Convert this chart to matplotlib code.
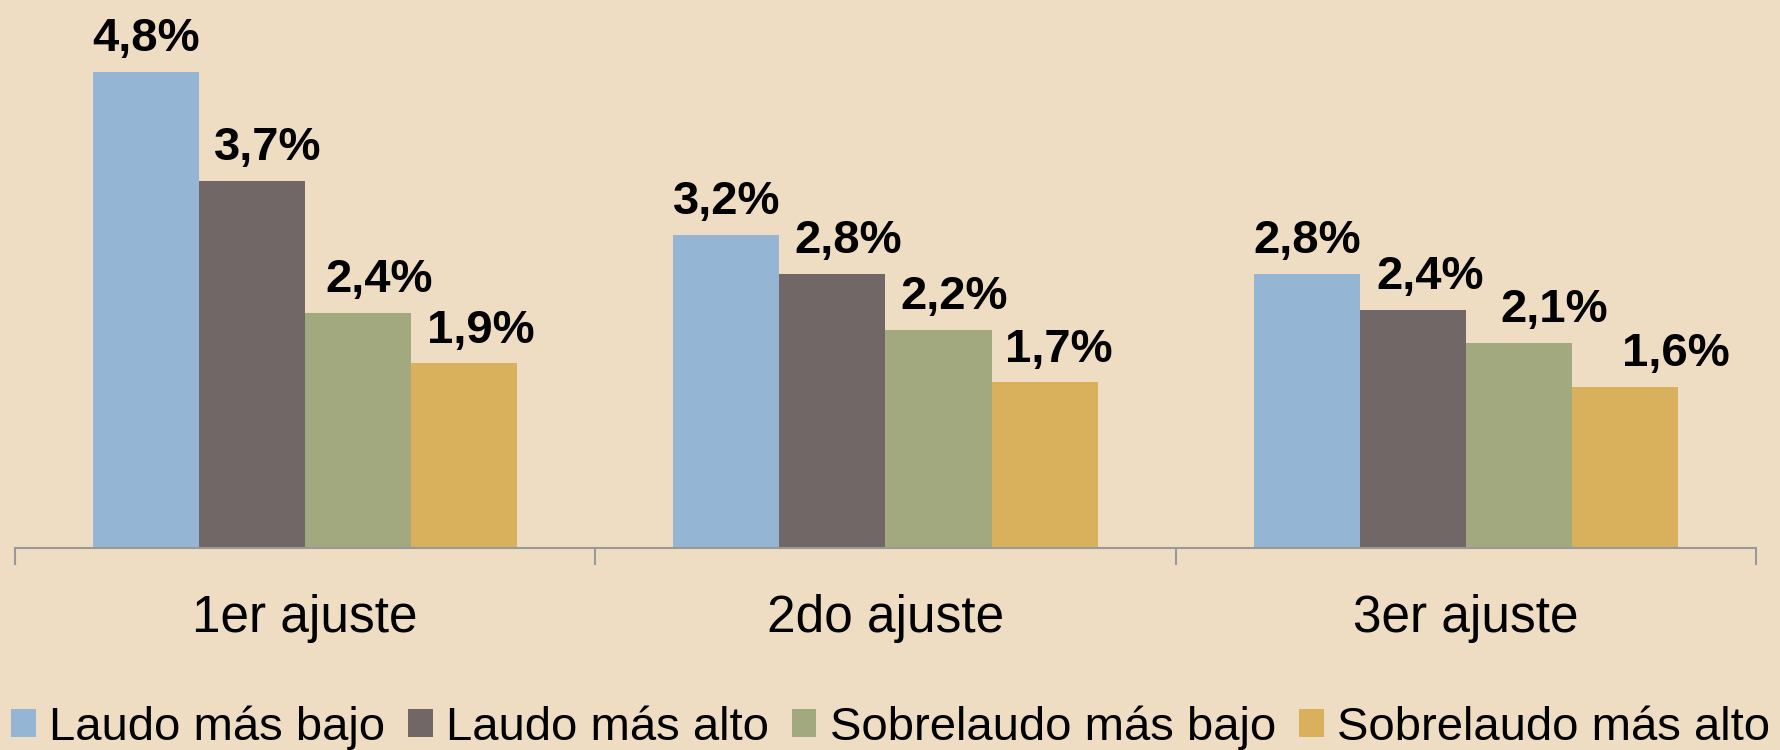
import numpy as np
import matplotlib
matplotlib.use('Agg')
import matplotlib.pyplot as plt

# datos
ajustes = ['1er ajuste', '2do ajuste', '3er ajuste']
series = ['Laudo más bajo', 'Laudo más alto', 'Sobrelaudo más bajo', 'Sobrelaudo más alto']
laudo_bajo = [4.8, 3.16, 2.76]
laudo_alto = [3.7, 2.76, 2.4]
sobre_bajo = [2.37, 2.2, 2.07]
sobre_alto = [1.86, 1.67, 1.62]
valores = [laudo_bajo, laudo_alto, sobre_bajo, sobre_alto]
colores = ['#95B5D4', '#716766', '#A3A97E', '#D9B15C']
fondo = '#EEDDC3'

# desplazamiento horizontal de las etiquetas (px), por serie y ajuste
label_dx = [[0, 0, 0], [16, 16, 17], [21, 16, 35], [17, 14, 51]]

plt.rcParams['font.family'] = ['Liberation Sans', 'DejaVu Sans']

fig = plt.figure(figsize=(17.81, 7.5), dpi=100, facecolor=fondo)
ax = fig.add_axes([15/1781, 202/750, 1741/1781, 545.6/750])
ax.set_facecolor(fondo)

x = np.arange(len(ajustes))
w = 0.1827
for i, (s, v) in enumerate(zip(series, valores)):
    pos = x + (i - 1.5) * w
    bars = ax.bar(pos, v, w, color=colores[i], label=s)
    for j, (b, val) in enumerate(zip(bars, v)):
        ax.annotate(f'{val:.1f}%'.replace('.', ','), (b.get_x() + b.get_width()/2, val),
                    xytext=(label_dx[i][j] * 0.72, 15), textcoords='offset points',
                    ha='center', va='baseline', fontsize=34, fontweight='bold')

ax.set_xlim(-0.5, 2.5)
ax.set_ylim(0, 5.5)
for s in ['top', 'right', 'left']:
    ax.spines[s].set_visible(False)
ax.spines['bottom'].set_color('#999999')
ax.spines['bottom'].set_linewidth(1.5)
ax.set_yticks([])
ax.set_xticks(x)
ax.set_xticklabels(ajustes, fontsize=37)
ax.tick_params(axis='x', which='major', length=0, pad=33)
ax.set_xticks([-0.5, 0.5, 1.5, 2.5], minor=True)
ax.tick_params(axis='x', which='minor', length=12, width=1.5, color='#999999')

fig.legend(loc='lower center', bbox_to_anchor=(0.5, -0.025), ncol=4, frameon=False,
           fontsize=34, handlelength=0.52, handleheight=0.52, handletextpad=0.28,
           columnspacing=0.49, borderaxespad=0)

fig.savefig('out.png', dpi=100, facecolor=fondo)
